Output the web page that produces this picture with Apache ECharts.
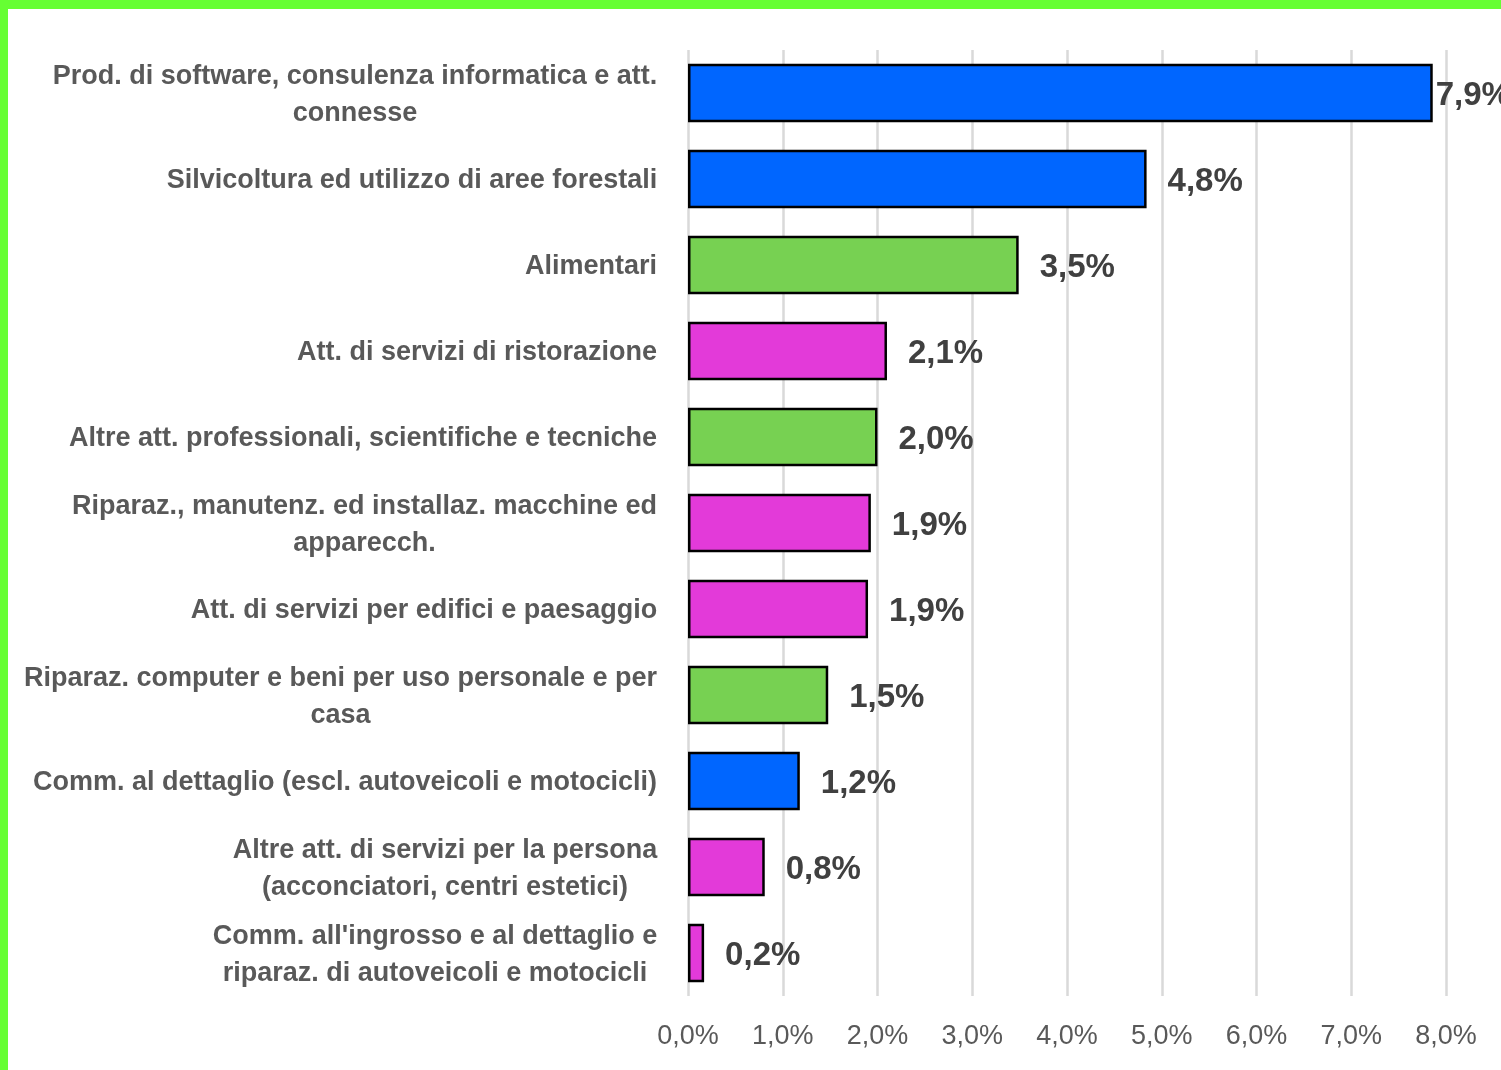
<!DOCTYPE html>
<html>
<head>
<meta charset="utf-8">
<script src="https://cdn.jsdelivr.net/npm/echarts@6/dist/echarts.min.js"></script>
<style>
html,body{margin:0;padding:0;background:#fff;}
#chart{width:1501px;height:1070px;}
</style>
</head>
<body>
<div id="chart"></div>
<script>
const categories = [
  "Prod. di software, consulenza informatica e att.\nconnesse",
  "Silvicoltura ed utilizzo di aree forestali",
  "Alimentari",
  "Att. di servizi di ristorazione",
  "Altre att. professionali, scientifiche e tecniche",
  "Riparaz., manutenz. ed installaz. macchine ed\napparecch.",
  "Att. di servizi per edifici e paesaggio",
  "Riparaz. computer e beni per uso personale e per\ncasa",
  "Comm. al dettaglio (escl. autoveicoli e motocicli)",
  "Altre att. di servizi per la persona\n(acconciatori, centri estetici)",
  "Comm. all'ingrosso e al dettaglio e\nriparaz. di autoveicoli e motocicli"
];
const values = [7.86, 4.84, 3.49, 2.10, 2.00, 1.93, 1.90, 1.48, 1.18, 0.81, 0.17];
const groups = ["blue","blue","green","magenta","green","magenta","magenta","green","blue","magenta","magenta"];
const tickValues = [0,1,2,3,4,5,6,7,8];

const palette = {blue:"#0066FF", green:"#77D152", magenta:"#E33AD9"};
const FONT = '"Liberation Sans Narrow","Arial Narrow","Liberation Sans",Arial,sans-serif';
const catFontSize = 27;

// measure line widths so multi-line labels are centred as a block
const cv = document.createElement('canvas').getContext('2d');
cv.font = 'bold ' + catFontSize + 'px ' + FONT;
const rich = {};
categories.forEach((c, i) => {
  const w = Math.max(...c.split('\n').map(l => cv.measureText(l).width));
  rich['c' + i] = {
    width: Math.ceil(w) + 1, align: 'center', fontSize: catFontSize, fontWeight: 'bold',
    fontFamily: FONT, color: '#595959', lineHeight: 37
  };
});

const fmt = v => v.toFixed(1).replace('.', ',') + '%';

const chart = echarts.init(document.getElementById('chart'), null, {renderer: 'canvas'});
chart.setOption({
  backgroundColor: '#ffffff',
  animation: false,
  graphic: [
    {type:'rect', left:0, top:0, shape:{width:1501, height:9}, style:{fill:'#66FF33'}, z:100},
    {type:'rect', left:0, top:0, shape:{width:8, height:1070}, style:{fill:'#66FF33'}, z:100}
  ],
  grid: {left: 688, right: 55, top: 50, bottom: 74, containLabel: false, outerBoundsMode: 'none'},
  xAxis: {
    type: 'value', min: tickValues[0], max: tickValues[tickValues.length - 1], interval: 1,
    axisLine: {show: false}, axisTick: {show: false},
    splitLine: {show: true, lineStyle: {color: '#D9D9D9', width: 2.5}},
    axisLabel: {
      formatter: v => fmt(v), fontSize: 27, fontFamily: FONT, color: '#595959', margin: 27
    }
  },
  yAxis: {
    type: 'category', data: categories, inverse: true,
    axisLine: {show: false}, axisTick: {show: false},
    axisLabel: {
      margin: 30, align: 'right', padding: [4, 0, 0, 0],
      formatter: (v, idx) => v.split('\n').map(l => '{c' + idx + '|' + l + '}').join('\n'),
      rich: rich
    }
  },
  series: [{
    type: 'bar',
    barWidth: '68%',
    data: values.map((v, i) => ({
      value: v,
      itemStyle: {color: palette[groups[i]], borderColor: '#000', borderWidth: 2.5},
      label: i === 0 ? {distance: 3} : undefined
    })),
    label: {
      show: true, position: 'right', distance: 21, offset: [0, 3],
      formatter: p => fmt(p.value),
      fontSize: 33, fontWeight: 'bold', fontFamily: FONT, color: '#404040'
    }
  }]
});
</script>
</body>
</html>
